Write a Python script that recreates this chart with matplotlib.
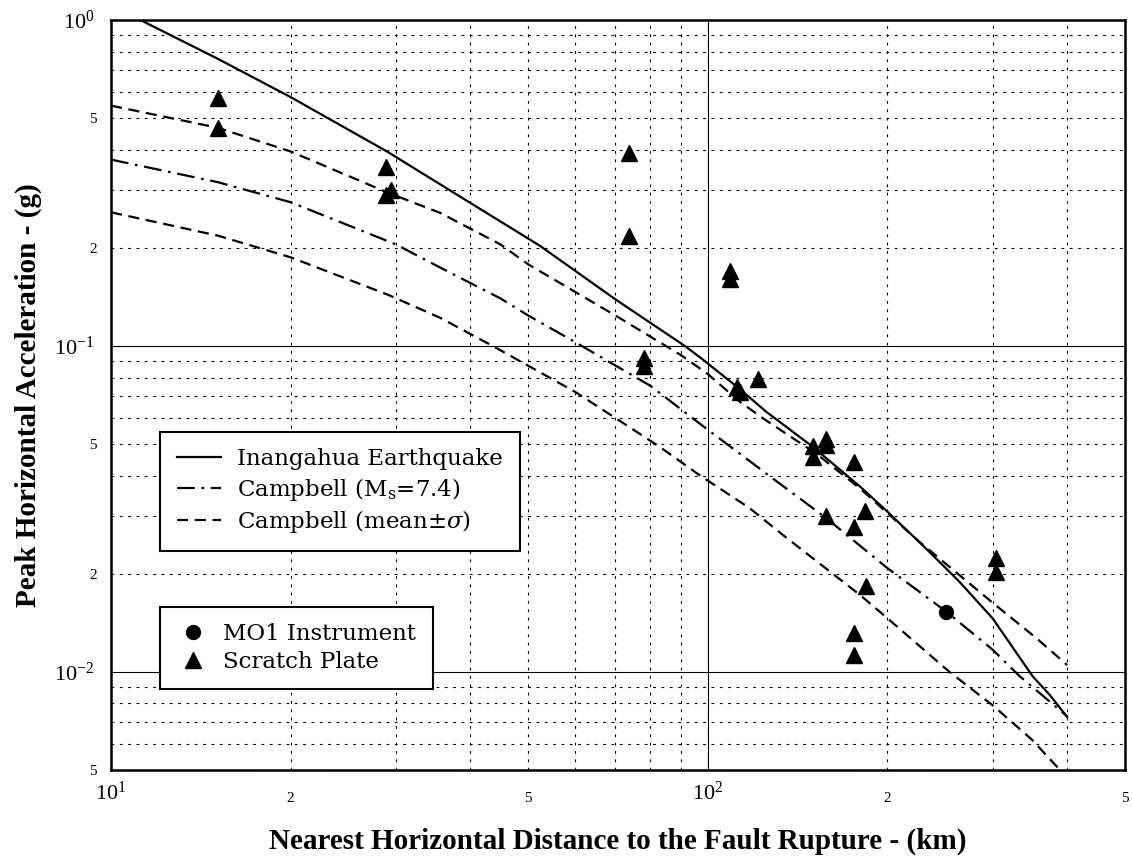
import numpy as np
import matplotlib
matplotlib.use("Agg")
import matplotlib.pyplot as plt
from matplotlib.lines import Line2D
from matplotlib.ticker import FixedLocator, FixedFormatter

# Inangahua earthquake attenuation curve (km, g)
dist_quake = [11.2, 15, 20, 29, 39.2, 52.3, 70, 91.5, 97, 113, 125, 150, 180,
              200, 232, 264, 300, 350, 374, 400]
pga_quake = [1.0, 0.765, 0.58, 0.395, 0.281, 0.203, 0.139, 0.100, 0.0923,
             0.0739, 0.063, 0.049, 0.0370, 0.0310, 0.0239, 0.0189, 0.0146,
             0.0097, 0.0085, 0.00727]

# Campbell, Ms = 7.4
dist_ms74 = [10, 15.1, 20, 30, 35.6, 44.9, 50, 60, 80, 100, 113, 125, 158,
             200, 251, 300, 333, 360, 400]
pga_ms74 = [0.373, 0.318, 0.276, 0.205, 0.174, 0.140, 0.124, 0.1026, 0.0756,
            0.0553, 0.0468, 0.0407, 0.0296, 0.0208, 0.0153, 0.0117, 0.0097,
            0.0086, 0.0073]

# Campbell mean + sigma
dist_plus = [10, 15.1, 20, 29, 35.6, 44.9, 50, 70, 90, 100, 113, 125, 152,
             180, 226, 300, 355, 400]
pga_plus = [0.546, 0.467, 0.395, 0.296, 0.256, 0.205, 0.178, 0.124, 0.0939,
            0.082, 0.0675, 0.0592, 0.0467, 0.0365, 0.0251, 0.0163, 0.0127,
            0.0105]

# Campbell mean - sigma
dist_minus = [10, 15.1, 20, 29, 35.6, 43.6, 60, 83.1, 96.9, 117.5, 133.6,
              180, 200, 254, 300, 349, 389]
pga_minus = [0.257, 0.218, 0.187, 0.144, 0.122, 0.100, 0.0722, 0.049, 0.0401,
             0.0318, 0.0263, 0.0172, 0.0146, 0.0100, 0.0079, 0.0062, 0.0050]

# recorded values
dist_mo1 = [251]
pga_mo1 = [0.0153]

dist_scratch = [15.1, 15.1, 28.9, 28.9, 29.5, 73.8, 73.8, 78.2, 78.2, 108.9,
                108.9, 112, 113, 121.4, 150, 150, 158, 158, 175.8, 183.6,
                157.5, 175.8, 184, 176, 176, 303.5, 303.5]
pga_scratch = [0.577, 0.467, 0.355, 0.29, 0.30, 0.392, 0.218, 0.0917, 0.0865,
               0.170, 0.160, 0.075, 0.072, 0.0793, 0.0493, 0.0457, 0.052,
               0.0497, 0.0441, 0.0311, 0.0301, 0.0279, 0.0183, 0.01316,
               0.01127, 0.0223, 0.0203]

x_major = [10, 100]
x_major_labels = ["$\\mathregular{10^1}$", "$\\mathregular{10^2}$"]
x_minor = [20, 30, 40, 50, 60, 70, 80, 90, 200, 300, 400, 500]
x_minor_labels = ["2", "", "", "5", "", "", "", "", "2", "", "", "5"]

y_major = [0.01, 0.1, 1.0]
y_major_labels = ["$\\mathregular{10^{-2}}$", "$\\mathregular{10^{-1}}$",
                  "$\\mathregular{10^0}$"]
y_minor = [0.005, 0.006, 0.007, 0.008, 0.009,
           0.02, 0.03, 0.04, 0.05, 0.06, 0.07, 0.08, 0.09,
           0.2, 0.3, 0.4, 0.5, 0.6, 0.7, 0.8, 0.9]
y_minor_labels = ["5", "", "", "", "",
                  "2", "", "", "5", "", "", "", "",
                  "2", "", "", "5", "", "", "", ""]

plt.rcParams["font.family"] = ["Liberation Serif", "DejaVu Serif"]
plt.rcParams["mathtext.fontset"] = "dejavuserif"

fig = plt.figure(figsize=(11.32, 8.59), dpi=100)
ax = fig.add_axes([111 / 1132, 1 - 770 / 859, 1014 / 1132, 750 / 859])
ax.set_xscale("log")
ax.set_yscale("log")

lw = 1.6
dash_ms = (0, (8, 3, 1.2, 3))
dash_sig = (0, (5, 3))
ax.plot(dist_quake, pga_quake, color="k", lw=lw)
ax.plot(dist_ms74, pga_ms74, color="k", lw=lw, ls=dash_ms)
ax.plot(dist_plus, pga_plus, color="k", lw=lw, ls=dash_sig)
ax.plot(dist_minus, pga_minus, color="k", lw=lw, ls=dash_sig)
ax.plot(dist_scratch, pga_scratch, "k^", ms=11, ls="none")
ax.plot(dist_mo1, pga_mo1, "ko", ms=10, ls="none")

ax.set_xlim(10, 500)
ax.set_ylim(0.005, 1)

ax.xaxis.set_major_locator(FixedLocator(x_major))
ax.xaxis.set_major_formatter(FixedFormatter(x_major_labels))
ax.xaxis.set_minor_locator(FixedLocator(x_minor))
ax.xaxis.set_minor_formatter(FixedFormatter(x_minor_labels))
ax.yaxis.set_major_locator(FixedLocator(y_major))
ax.yaxis.set_major_formatter(FixedFormatter(y_major_labels))
ax.yaxis.set_minor_locator(FixedLocator(y_minor))
ax.yaxis.set_minor_formatter(FixedFormatter(y_minor_labels))

ax.tick_params(which="both", length=0)
ax.tick_params(which="major", labelsize=16)
ax.tick_params(which="minor", labelsize=11)
ax.tick_params(axis="x", which="major", pad=8)
ax.tick_params(axis="x", which="minor", pad=16)
ax.tick_params(axis="y", which="major", pad=12)
ax.tick_params(axis="y", which="minor", pad=10)

ax.grid(which="major", color="k", lw=0.8, ls="-")
ax.grid(which="minor", color="k", lw=0.8, ls=(0, (2.5, 5)))
for sp in ax.spines.values():
    sp.set_linewidth(1.8)

ax.set_xlabel("Nearest Horizontal Distance to the Fault Rupture - (km)",
              fontsize=21, fontweight="bold", va="center")
ax.xaxis.set_label_coords(0.5, -0.0947)
ax.set_ylabel("Peak Horizontal Acceleration - (g)",
              fontsize=21, fontweight="bold", va="center")
ax.yaxis.set_label_coords(-0.082, 0.5)

leg_font = {"family": "DejaVu Serif", "size": 16.5}
curve_handles = [
    Line2D([], [], color="k", lw=lw),
    Line2D([], [], color="k", lw=lw, ls=dash_ms),
    Line2D([], [], color="k", lw=lw, ls=dash_sig),
]
curve_labels = ["Inangahua Earthquake",
                "Campbell (M$_{\\mathregular{s}}$=7.4)",
                "Campbell (mean$\\pm\\sigma$)"]
leg1 = ax.legend(curve_handles, curve_labels, loc="upper left",
                 bbox_to_anchor=(160 / 1132, 1 - 432 / 859),
                 bbox_transform=fig.transFigure, prop=leg_font,
                 fancybox=False, edgecolor="k", framealpha=1,
                 borderpad=0.72, handlelength=1.96, handletextpad=0.7,
                 labelspacing=0.22, borderaxespad=0)
leg1.get_frame().set_linewidth(1.5)
ax.add_artist(leg1)

point_handles = [
    Line2D([], [], color="k", marker="o", ms=10, ls="none"),
    Line2D([], [], color="k", marker="^", ms=11, ls="none"),
]
leg2 = ax.legend(point_handles, ["MO1 Instrument", "Scratch Plate"],
                 loc="upper left",
                 bbox_to_anchor=(160 / 1132, 1 - 607 / 859),
                 bbox_transform=fig.transFigure, prop=leg_font,
                 fancybox=False, edgecolor="k", framealpha=1,
                 borderpad=0.72, handlelength=1.4, handletextpad=0.65,
                 labelspacing=0.22, borderaxespad=0)
leg2.get_frame().set_linewidth(1.5)

fig.savefig("out.png", dpi=100)
